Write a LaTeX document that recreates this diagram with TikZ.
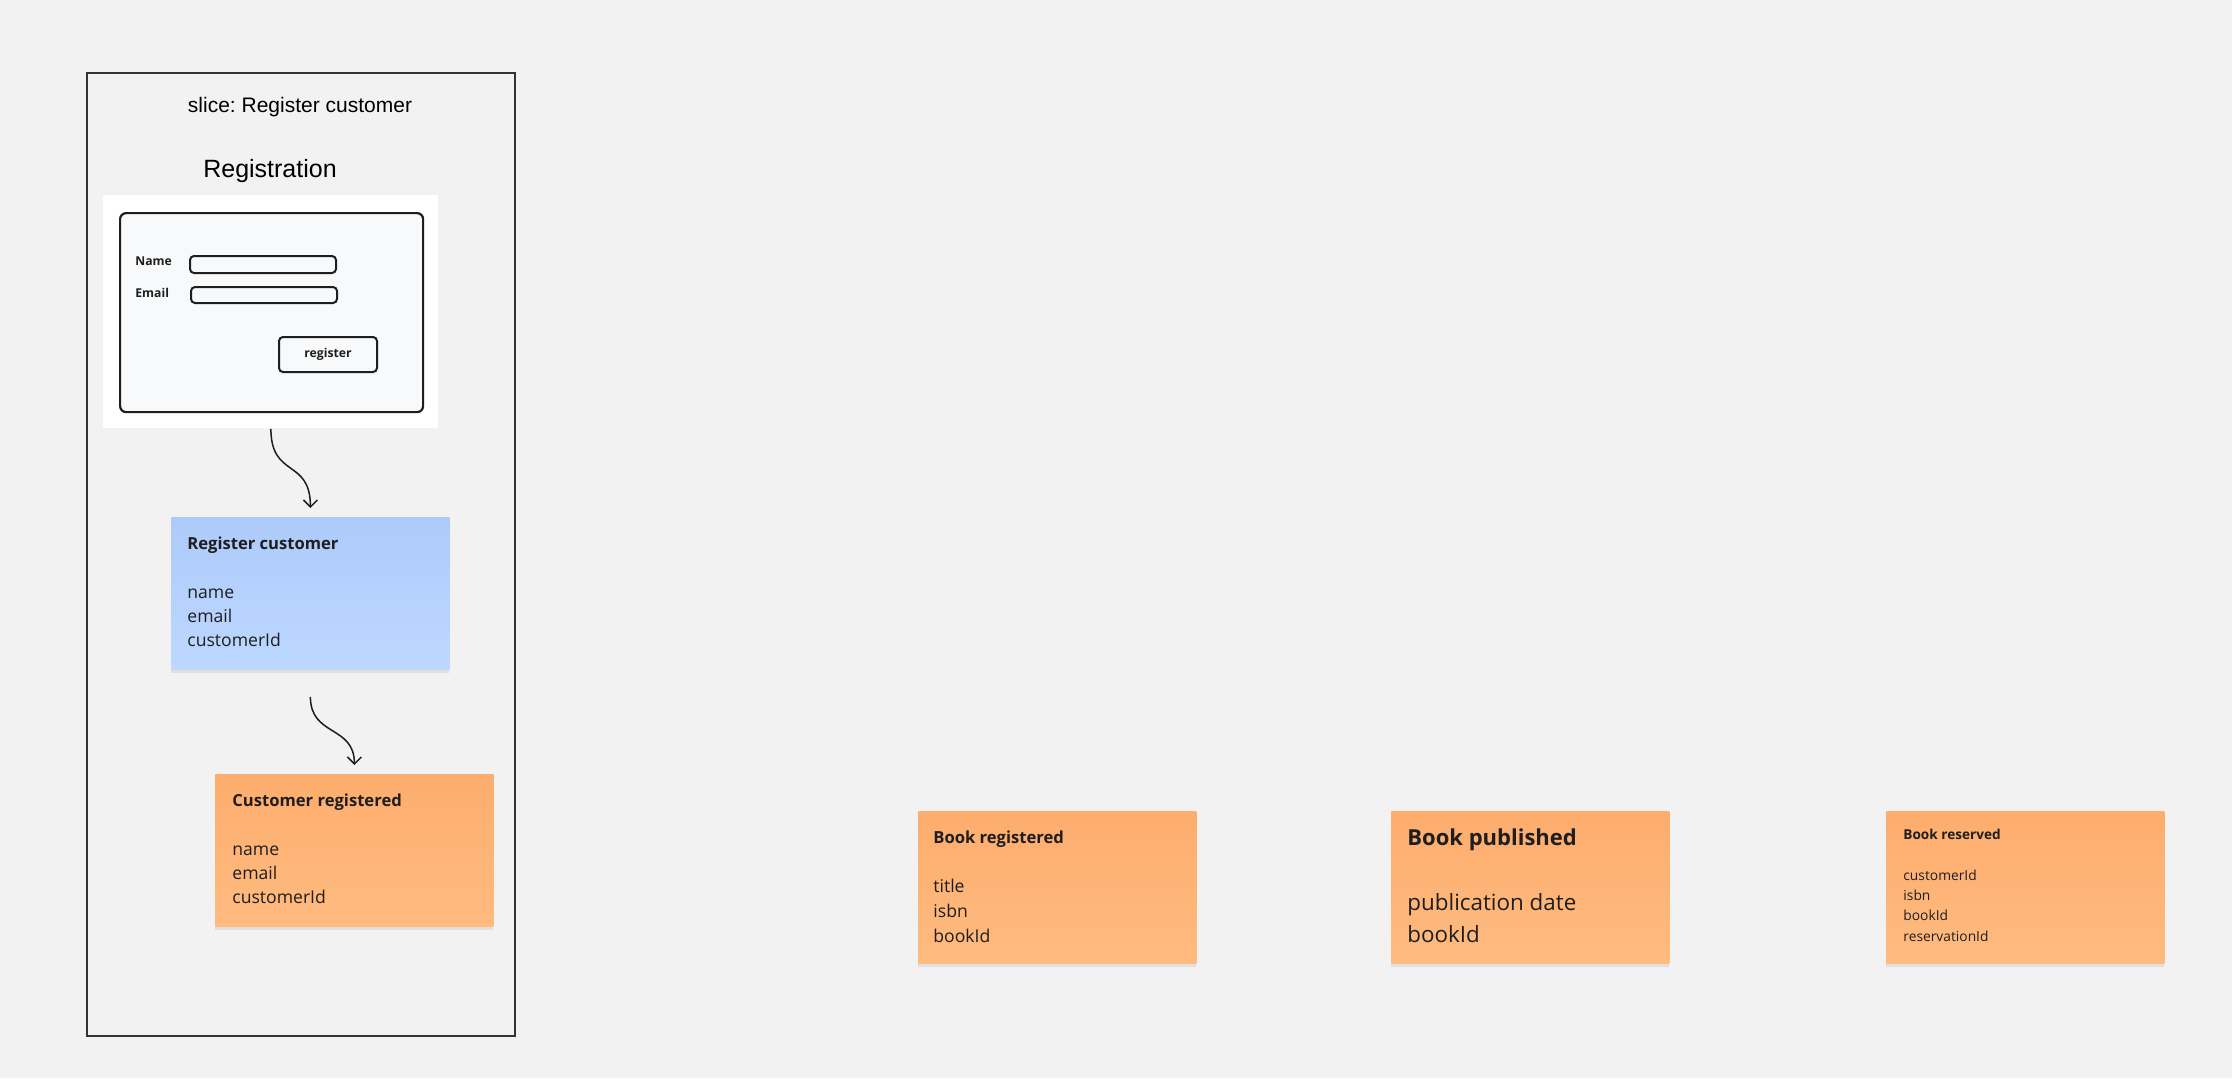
\documentclass[tikz,border=0pt]{standalone}
\usepackage{fontspec}
\setmainfont{Open Sans}
\newfontfamily\arialfont{Liberation Sans}
\usetikzlibrary{arrows.meta,shadows}
\frenchspacing
\definecolor{canvas}{HTML}{F2F2F2}
\definecolor{ink}{HTML}{1E1E1E}
\definecolor{frame}{HTML}{333333}
\definecolor{evttop}{HTML}{FDAD6D}
\definecolor{evtbot}{HTML}{FFBB80}
\definecolor{cmdtop}{HTML}{ADCAFA}
\definecolor{cmdbot}{HTML}{BDD8FF}
\definecolor{formbg}{HTML}{F8F9FA}

\begin{document}
\begin{tikzpicture}[x=0.5pt,y=-0.5pt,
    note/.style={anchor=north west,minimum width=139pt,minimum height=76pt,inner sep=0pt,
        drop shadow={shadow xshift=0pt,shadow yshift=-1.8pt,opacity=0.16}},
    event/.style={note,top color=evttop,bottom color=evtbot},
    command/.style={note,top color=cmdtop,bottom color=cmdbot},
    notetitle/.style={anchor=base west,inner sep=0pt,text=ink,font=\fontsize{8.3}{10}\selectfont\bfseries},
    noteline/.style={anchor=base west,inner sep=0pt,text=ink,font=\fontsize{8.8}{11}\selectfont},
    field/.style={draw=ink,line width=1pt,rounded corners=2pt,anchor=north west,inner sep=0pt},
    formtext/.style={inner sep=0pt,text=ink,font=\fontsize{6.1}{7}\selectfont\bfseries},
    flow/.style={-{Straight Barb[length=3.5pt,width=7pt]},line width=0.75pt,ink}]
    \fill[canvas] (0,0) rectangle (2232,1078);
    \useasboundingbox (0,0) rectangle (2232,1078);

    % slice
    \node[draw=frame,line width=0.8pt,anchor=north west,minimum width=214pt,minimum height=481.5pt,inner sep=0pt] (slice) at (86,72) {};
    \node[anchor=base,inner sep=0pt,font=\arialfont\fontsize{10.5}{12}\selectfont] (slicename) at (300,112) {slice: Register customer};
    \node[anchor=base,inner sep=0pt,font=\arialfont\fontsize{12.5}{14}\selectfont] (screenname) at (270,177) {Registration};

    % screen mockup
    \node[fill=white,anchor=north west,minimum width=167.5pt,minimum height=116.5pt,inner sep=0pt] (screen) at (103,195) {};
    \node[field,fill=formbg,line width=1.1pt,rounded corners=3pt,minimum width=151.5pt,minimum height=99.5pt] (form) at (119,212) {};
    \node[formtext,anchor=base west] (namelbl) at (135,265) {Name};
    \node[formtext,anchor=base west] (emaillbl) at (135,297) {Email};
    \node[field,minimum width=73pt,minimum height=8.5pt] (namefield) at (189,255) {};
    \node[field,minimum width=73pt,minimum height=8pt] (emailfield) at (190,286) {};
    \node[field,minimum width=49pt,minimum height=17.5pt,formtext] (button) at (278,336) {register};

    % command
    \node[command] (cmd) at (171,517) {};
    \node[notetitle] (cmdtitle) at (187,549) {Register customer};
    \foreach \t [count=\i] in {name,email,customerId}
        \node[noteline] (cmd-\i) at (187,574+24*\i) {\t};

    % event in slice
    \node[event] (evt) at (215,774) {};
    \node[notetitle] (evttitle) at (232,806) {Customer registered};
    \foreach \t [count=\i] in {name,email,customerId}
        \node[noteline] (evt-\i) at (232,831+24*\i) {\t};

    \draw[flow] (screen.south) .. controls +(0,50) and +(0,-50) .. ([yshift=4.5pt]cmd.north);
    \draw[flow] ([yshift=-13.5pt]cmd.south) .. controls +(0,40) and +(0,-40) .. ([yshift=4.5pt]evt.north);

    % other events
    \node[event] (bookreg) at (918,811) {};
    \node[notetitle] (bookregtitle) at (933,843) {Book registered};
    \foreach \t [count=\i] in {title,isbn,bookId}
        \node[noteline] (bookreg-\i) at (933,867+25*\i) {\t};

    \node[event] (bookpub) at (1391,811) {};
    \node[notetitle,font=\fontsize{11}{13}\selectfont\bfseries] (bookpubtitle) at (1407,845) {Book published};
    \foreach \t [count=\i] in {publication date,bookId}
        \node[noteline,font=\fontsize{11.2}{13}\selectfont] (bookpub-\i) at (1407,878+32*\i) {\t};

    \node[event] (bookres) at (1886,811) {};
    \node[notetitle,font=\fontsize{6.8}{8}\selectfont\bfseries] (bookrestitle) at (1903,839) {Book reserved};
    \foreach \t [count=\i] in {customerId,isbn,bookId,reservationId}
        \node[noteline,font=\fontsize{6.9}{8}\selectfont] (bookres-\i) at (1903,860+20.3*\i) {\t};
\end{tikzpicture}
\end{document}
